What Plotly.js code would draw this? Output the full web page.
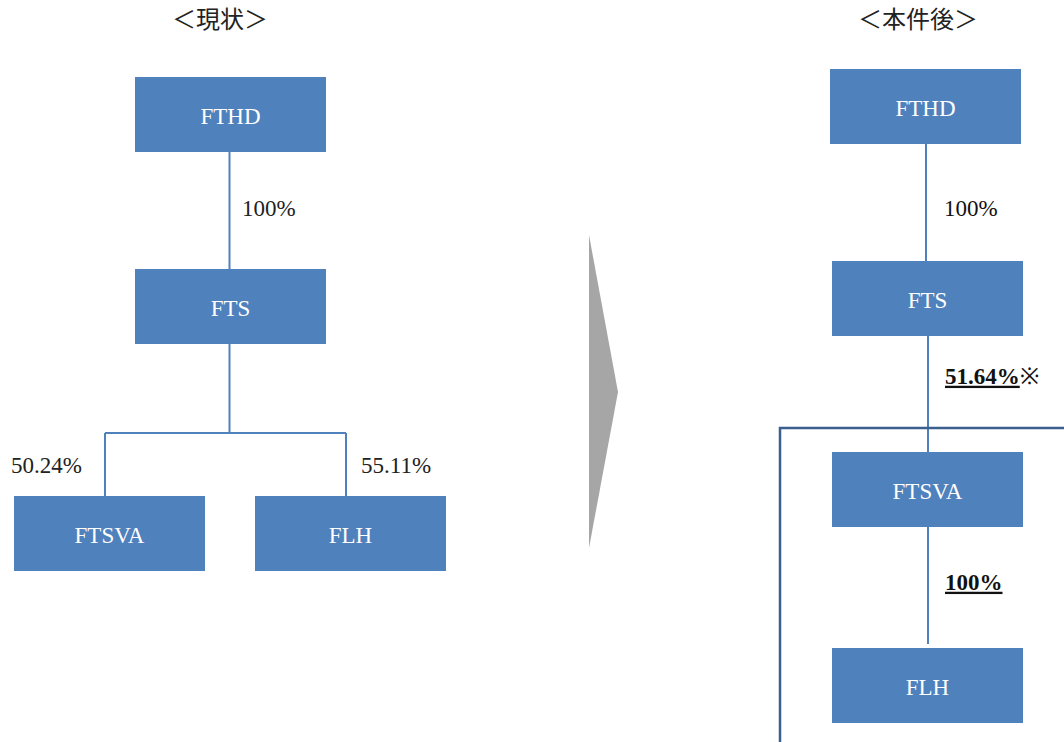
<!DOCTYPE html>
<html><head><meta charset="utf-8">
<script src="https://cdn.plot.ly/plotly-3.0.1.min.js"></script>
<style>html,body{margin:0;padding:0;background:#fff}#chart{width:1064px;height:742px}</style>
</head><body><div id="chart"></div>
<script>
// ---- data ----
const panelTitles = ['＜現状＞', '＜本件後＞'];
const beforeNodes = ['FTHD', 'FTS', 'FTSVA', 'FLH'];
const beforeShares = ['100%', '50.24%', '55.11%'];
const afterNodes = ['FTHD', 'FTS', 'FTSVA', 'FLH'];
const afterShares = ['100%', '51.64%', '100%'];
const afterNote = '※';

// ---- layout geometry (positions, not data) ----
const BOX_W = 191, BOX_H = 75;
const beforePos = [[135, 77], [135, 269], [14, 496], [255, 496]];
const afterPos = [[830, 69], [832, 261], [832, 452], [832, 648]];
const titlePos = [[220, 22], [918, 22]];
const beforeSharePos = [[242, 210], [11, 467], [361, 467]];
const afterSharePos = [[944, 210], [945, 378], [945, 584]];

const BOX_COLOR = '#4F81BD';
const LINE_COLOR = '#4F81BD';
const FRAME_COLOR = '#3B6090';
const serif = '"Liberation Serif", "DejaVu Serif", serif';

const shapes = [];
function box(p) {
  shapes.push({type: 'rect', xref: 'x', yref: 'y', x0: p[0], x1: p[0] + BOX_W, y0: p[1], y1: p[1] + BOX_H,
    fillcolor: BOX_COLOR, line: {width: 0}, layer: 'below'});
}
function line(x0, y0, x1, y1, color, w) {
  shapes.push({type: 'line', xref: 'x', yref: 'y', x0, y0, x1, y1, line: {color: color || LINE_COLOR, width: w || 2}, layer: 'below'});
}

// before connectors
const cxB = beforePos[0][0] + BOX_W / 2 - 1;
line(cxB, beforePos[0][1] + BOX_H, cxB, beforePos[1][1]);
const busY = 433;
line(cxB, beforePos[1][1] + BOX_H, cxB, busY);
const leftX = 105, rightX = 346;
line(leftX, busY, rightX, busY);
line(leftX, busY, leftX, beforePos[2][1]);
line(rightX, busY, rightX, beforePos[3][1]);

// after connectors
line(926, afterPos[0][1] + BOX_H, 926, afterPos[1][1]);
line(928, afterPos[1][1] + BOX_H, 928, afterPos[2][1]);
line(928, afterPos[2][1] + BOX_H, 928, afterPos[3][1] - 4);

// frame
shapes.push({type: 'path', xref: 'x', yref: 'y', path: 'M780,745 L780,428 L1068,428',
  line: {color: FRAME_COLOR, width: 2.5}, layer: 'below'});

// arrow
shapes.push({type: 'path', xref: 'x', yref: 'y', path: 'M589,235 L618,392 L589,548 Z',
  fillcolor: '#A6A6A6', line: {width: 0}, layer: 'below'});

beforePos.forEach(box);
afterPos.forEach(box);

const traces = [];
// box labels
const allPos = beforePos.concat(afterPos);
const allNames = beforeNodes.concat(afterNodes);
traces.push({type: 'scatter', mode: 'text', hoverinfo: 'skip',
  x: allPos.map(p => p[0] + BOX_W / 2), y: allPos.map(p => p[1] + BOX_H / 2 + 4),
  text: allNames, textposition: 'middle center',
  textfont: {family: serif, size: 23, color: '#FFFFFF'}});
// titles
traces.push({type: 'scatter', mode: 'text', hoverinfo: 'skip',
  x: titlePos.map(p => p[0]), y: titlePos.map(p => p[1]), text: panelTitles,
  textposition: 'middle center',
  textfont: {family: '"Noto Sans CJK JP", sans-serif', size: 24, color: '#222222'}});
// before shares
traces.push({type: 'scatter', mode: 'text', hoverinfo: 'skip',
  x: beforeSharePos.map(p => p[0]), y: beforeSharePos.map(p => p[1]), text: beforeShares,
  textposition: 'middle right',
  textfont: {family: serif, size: 23, color: '#222222'}});
// after shares
const afterText = afterShares.map((s, i) => i === 0 ? s : (i === 1 ? '<b><u>' + s + '</u></b>' + afterNote : '<b><u>' + s + '</u></b>'));
traces.push({type: 'scatter', mode: 'text', hoverinfo: 'skip',
  x: afterSharePos.map(p => p[0]), y: afterSharePos.map(p => p[1]), text: afterText,
  textposition: 'middle right',
  textfont: {family: serif, size: 23, color: '#111111'}});

const layout = {
  width: 1064, height: 742, margin: {l: 0, r: 0, t: 0, b: 0},
  paper_bgcolor: '#FFFFFF', plot_bgcolor: '#FFFFFF', showlegend: false,
  xaxis: {range: [0, 1064], visible: false, fixedrange: true},
  yaxis: {range: [742, 0], visible: false, fixedrange: true},
  shapes: shapes
};
Plotly.newPlot('chart', traces, layout, {displayModeBar: false, staticPlot: true});
</script>
</body></html>
